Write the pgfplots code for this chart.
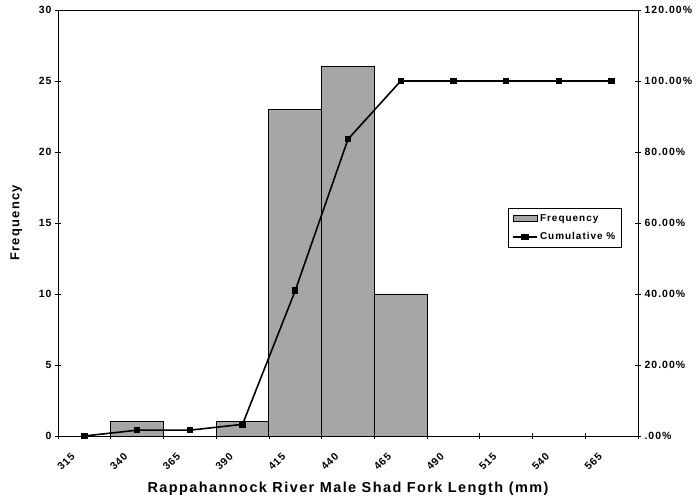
\documentclass[border=0pt]{standalone}
\usepackage{pgfplots}
\pgfplotsset{compat=1.18}
\usepackage{pgfplotstable}
\usepackage{fontspec}
\setmainfont{Liberation Sans}
\newfontfamily\lsp{Liberation Sans}[LetterSpace=10]

\pgfplotstableread{
x    freq cum
0.5  0    0
1.5  1    0.0164
2.5  0    0.0164
3.5  1    0.0328
4.5  23   0.4098
5.5  26   0.8361
6.5  10   1.0
7.5  0    1.0
8.5  0    1.0
9.5  0    1.0
10.5 0    1.0
}\data

\begin{document}
\begin{tikzpicture}
\begin{axis}[
  name=main,
  scale only axis, width=580bp, height=426bp,
  xmin=0, xmax=11, ymin=0, ymax=30,
  xtick pos=bottom, ytick pos=left,
  xtick={0.5,1.5,...,10.5},
  xticklabels={315,340,365,390,415,440,465,490,515,540,565},
  major x tick style={draw=none},
  minor xtick={0,1,...,11},
  ytick={0,5,...,30},
  tick align=center,
  major tick length=6bp, minor tick length=6bp,
  tick style={black, line width=0.8pt},
  axis line style={line width=0.9pt},
  /pgf/number format/assume math mode=true,
  ticklabel style={font=\lsp\bfseries\fontsize{10.5}{12}\selectfont},
  xticklabel style={xshift=-14bp, yshift=-8bp, rotate=45, anchor=north east},
  xlabel={\lsp\bfseries\fontsize{14.5}{17}\selectfont Rappahannock River Male Shad Fork Length (mm)},
  ylabel={\lsp\bfseries\fontsize{13}{15}\selectfont Frequency},
  xlabel style={yshift=-3bp},
  ylabel style={yshift=10bp},
]
\addplot[ybar, bar width=1, bar shift=0, fill=black!35, draw=black, line width=0.9pt] table[x=x,y=freq]{\data};
\end{axis}
\begin{axis}[
  scale only axis, width=580bp, height=426bp,
  xmin=0, xmax=11, ymin=0, ymax=1.2,
  axis x line=none, axis y line*=right,
  ytick={0,0.2,...,1.2},
  yticklabels={.00\%,20.00\%,40.00\%,60.00\%,80.00\%,100.00\%,120.00\%},
  tick align=center,
  major tick length=6bp,
  tick style={black, line width=0.8pt},
  axis line style={line width=0.9pt},
  ticklabel style={font=\lsp\bfseries\fontsize{10.5}{12}\selectfont},
  legend style={at={(0.776,0.535)}, anchor=north west, draw=black, line width=0.7pt,
    font=\lsp\bfseries\fontsize{10}{12}\selectfont, row sep=6bp, inner sep=4bp},
  legend image code/.code={},
  legend cell align=left,
]
\addlegendimage{legend image code/.code={\draw[fill=black!35, draw=black, line width=0.6pt] (0bp,-3bp) rectangle (24bp,3bp);}}
\addlegendentry{Frequency}
\addplot[black, line width=1.6pt, mark=square*, mark size=2.4bp,
  legend image code/.code={\draw[black, line width=1.6pt] (0bp,0bp) -- (24bp,0bp); \fill[black] (9bp,-2.4bp) rectangle (14.5bp,2.4bp);}] table[x=x,y=cum]{\data};
\addlegendentry{Cumulative \%}
\end{axis}
\path ([shift={(-58bp,-60bp)}]main.south west) rectangle ++(700bp,496bp);
\end{tikzpicture}
\end{document}
